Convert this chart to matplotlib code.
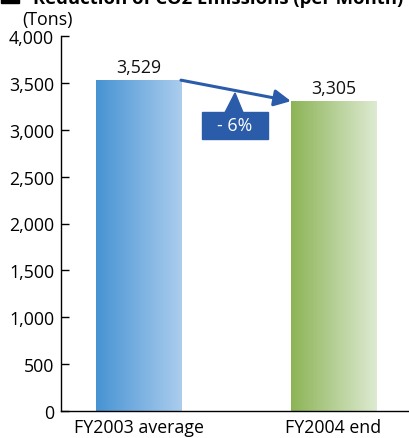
import numpy as np
import matplotlib
matplotlib.use("Agg")
import matplotlib.pyplot as plt
from matplotlib.colors import LinearSegmentedColormap
from matplotlib.patches import Polygon, Rectangle, FancyArrowPatch

plt.rcParams['font.family'] = ['Open Sans', 'DejaVu Sans']

categories = ["FY2003 average", "FY2004 end"]
values = [3529, 3305]
value_labels = ["3,529", "3,305"]
yticks = [0, 500, 1000, 1500, 2000, 2500, 3000, 3500, 4000]
ytick_labels = ["0", "500", "1,000", "1,500", "2,000", "2,500", "3,000", "3,500", "4,000"]
change_label = "- 6%"
title = "Reduction of CO2 Emissions (per Month)"
unit_label = "(Tons)"

FS = 12.8
W, H = 410, 439
fig = plt.figure(figsize=(W / 100, H / 100), dpi=100)
ax = fig.add_axes([61 / W, (H - 412) / H, 1 - 61 / W, (412 - 37) / H])

bar_width = 0.436
x = np.arange(len(categories))
ax.set_xlim(-0.397, 1.392)
ax.set_ylim(0, 4000)

gradients = [
    LinearSegmentedColormap.from_list("blue", ["#4793d3", "#abcdee"]),
    LinearSegmentedColormap.from_list("green", ["#8cb456", "#deead2"]),
]
grad = np.linspace(0, 1, 256).reshape(1, -1)
for xi, v, cmap in zip(x, values, gradients):
    ax.imshow(grad, cmap=cmap, aspect="auto",
              extent=[xi - bar_width / 2, xi + bar_width / 2, 0, v],
              interpolation="bilinear", zorder=2)

for xi, v, lab in zip(x, values, value_labels):
    ax.text(xi, v + 40, lab, ha="center", va="bottom", fontsize=FS, color="#111111")

# spines and ticks
for s in ["top", "right"]:
    ax.spines[s].set_visible(False)
ax.spines["left"].set_linewidth(1.0)
ax.spines["bottom"].set_linewidth(1.0)
ax.set_yticks(yticks)
ax.set_yticklabels(ytick_labels, fontsize=FS)
ax.tick_params(axis="y", direction="in", length=6, width=1, pad=5)
ax.set_xticks(x)
ax.set_xticklabels(categories, fontsize=FS)
ax.tick_params(axis="x", length=0, pad=5)

# change arrow between the bar tops
dark_blue = "#2a5ca9"
arrow = FancyArrowPatch((x[0] + bar_width / 2, values[0]),
                        (x[1] - bar_width / 2, values[1]),
                        arrowstyle="-|>,head_length=10,head_width=5",
                        color=dark_blue, lw=2.2, shrinkA=0, shrinkB=0, zorder=4)
ax.add_patch(arrow)

# callout box with pointer
to_data = ax.transData.inverted()
def px(xp, yp):
    return to_data.transform((xp, H - yp))
fig.canvas.draw()
bx0, by0 = px(202, 140)
bx1, by1 = px(268, 113)
ax.add_patch(Rectangle((bx0, by0), bx1 - bx0, by1 - by0, color=dark_blue, zorder=5))
tri = [px(225, 113.5), px(235, 94), px(243, 113.5)]
ax.add_patch(Polygon(tri, closed=True, color=dark_blue, zorder=5))
ax.text((bx0 + bx1) / 2, (by0 + by1) / 2, change_label, color="white",
        ha="center", va="center", fontsize=FS, zorder=6)

# title (running off the top edge) and unit label
fig.patches.append(Rectangle((1 / W, 1 - 4 / H), 18 / W, 8 / H, transform=fig.transFigure,
                             color="black"))
fig.text(33 / W, 1 - 4 / H, title, fontsize=13.3, fontweight="bold", va="baseline", ha="left")
fig.text(22 / W, 1 - 20 / H, unit_label, fontsize=FS, va="center", ha="left")

fig.savefig("out.png", dpi=100)
